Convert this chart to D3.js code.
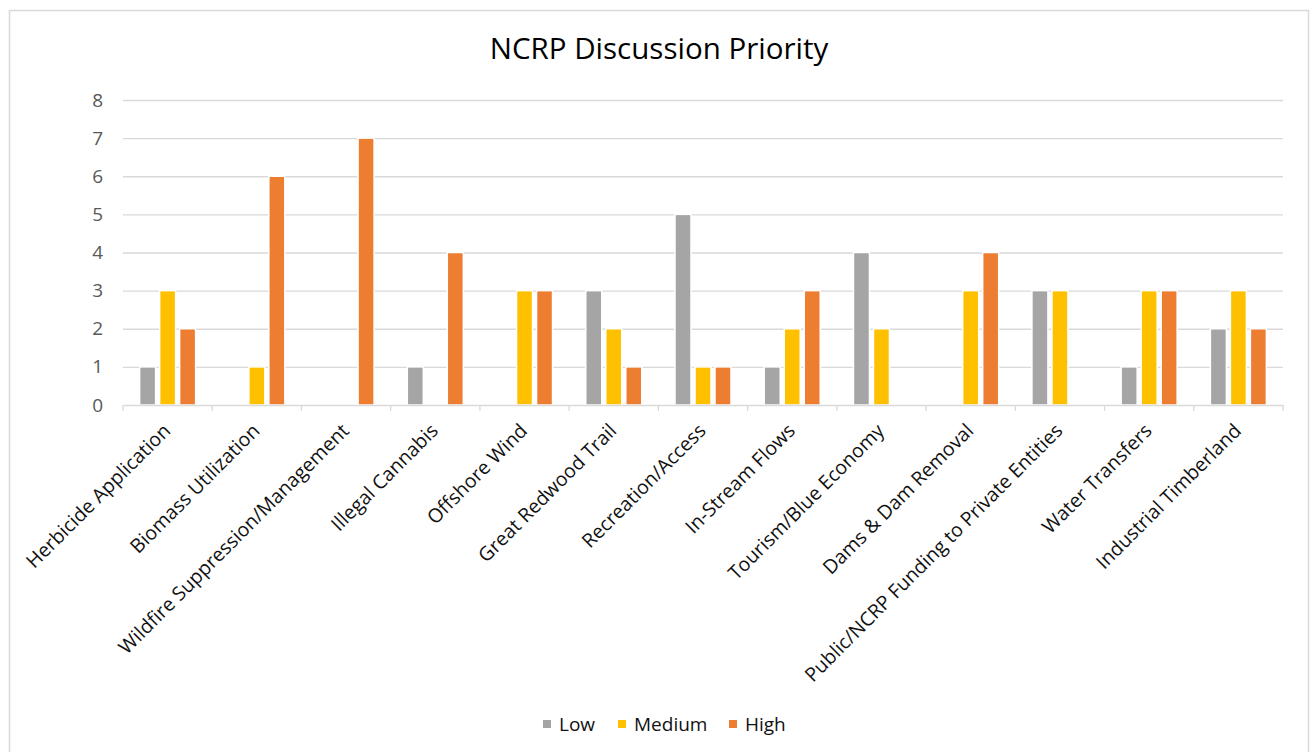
<!DOCTYPE html>
<html>
<head>
<meta charset="utf-8">
<script src="https://cdn.jsdelivr.net/npm/d3@7"></script>
<style>
  html, body { margin: 0; padding: 0; background: #fff; }
  svg { display: block; }
</style>
</head>
<body>
<svg id="chart" width="1312" height="752"></svg>
<script>
const categories = [
  "Herbicide Application",
  "Biomass Utilization",
  "Wildfire Suppression/Management",
  "Illegal Cannabis",
  "Offshore Wind",
  "Great Redwood Trail",
  "Recreation/Access",
  "In-Stream Flows",
  "Tourism/Blue Economy",
  "Dams & Dam Removal",
  "Public/NCRP Funding to Private Entities",
  "Water Transfers",
  "Industrial Timberland"
];
const seriesNames = ["Low", "Medium", "High"];
const lowValues    = [1, 0, 0, 1, 0, 3, 5, 1, 4, 0, 3, 1, 2];
const mediumValues = [3, 1, 0, 0, 3, 2, 1, 2, 2, 3, 3, 3, 3];
const highValues   = [2, 6, 7, 4, 3, 1, 1, 3, 0, 4, 0, 3, 2];
const yTicks = [0, 1, 2, 3, 4, 5, 6, 7, 8];
const colors = ["#A5A5A5", "#FFC000", "#ED7D31"];
const title = "NCRP Discussion Priority";

const seriesValues = [lowValues, mediumValues, highValues];
const FONT = "'Open Sans', 'Noto Sans', sans-serif";

const svg = d3.select("#chart");

// frame
svg.append("rect")
  .attr("x", 9.5).attr("y", 10.5)
  .attr("width", 1299).attr("height", 760)
  .attr("fill", "#fff").attr("stroke", "#D9D9D9").attr("stroke-width", 1.5);

const plot = { left: 123, right: 1283, top: 100, bottom: 405 };

const x0 = d3.scaleBand().domain(categories).range([plot.left, plot.right]).paddingInner(0).paddingOuter(0);
const bw = x0.bandwidth();
const x1 = d3.scaleBand().domain(seriesNames).range([bw / 2 - 28, bw / 2 + 28]).paddingInner(0.2).paddingOuter(0);
const y = d3.scaleLinear().domain([0, 8]).range([plot.bottom, plot.top]);

// title
svg.append("text")
  .attr("x", 659).attr("y", 59)
  .attr("text-anchor", "middle")
  .attr("font-family", FONT).attr("font-size", 29.5)
  .attr("fill", "#000")
  .text(title);

// gridlines + y labels
const yAxis = d3.axisLeft(y).tickValues(yTicks).tickSize(-(plot.right - plot.left)).tickPadding(20).tickFormat(d3.format("d"));
const gy = svg.append("g").attr("transform", `translate(${plot.left},0)`).call(yAxis);
gy.select(".domain").remove();
gy.selectAll(".tick line").attr("stroke", "#D9D9D9").attr("stroke-width", 1.3);
gy.selectAll(".tick").filter(d => d === 0).select("line").remove();
gy.selectAll(".tick text")
  .attr("font-family", FONT).attr("font-size", 19).attr("fill", "#595959");

// bars
const groups = svg.append("g").selectAll("g")
  .data(categories)
  .join("g")
  .attr("transform", d => `translate(${x0(d)},0)`);

groups.selectAll("rect")
  .data((d, i) => seriesNames.map((s, j) => ({ s, v: seriesValues[j][i], c: colors[j] })))
  .join("rect")
  .filter(d => d.v > 0)
  .attr("x", d => x1(d.s))
  .attr("width", x1.bandwidth())
  .attr("y", d => y(d.v))
  .attr("height", d => y(0) - y(d.v))
  .attr("fill", d => d.c)
  .attr("stroke", "#fff")
  .attr("stroke-width", 1.5);

// x axis
const xAxis = d3.axisBottom(x0).tickSize(0).tickFormat("");
const gx = svg.append("g").attr("transform", `translate(0,${plot.bottom})`).call(xAxis);
gx.select(".domain").attr("stroke", "#D9D9D9").attr("stroke-width", 1.5);
gx.selectAll(".tick").remove();
const boundaries = categories.map(c => x0(c)).concat([plot.right]);
gx.selectAll("line.sep")
  .data(boundaries)
  .join("line")
  .attr("class", "sep")
  .attr("x1", d => d).attr("x2", d => d)
  .attr("y1", 0).attr("y2", 6)
  .attr("stroke", "#D9D9D9").attr("stroke-width", 1.3);

// category labels
svg.append("g").selectAll("text")
  .data(categories)
  .join("text")
  .attr("transform", d => `translate(${x0(d) + bw / 2 + 4},432) rotate(-45)`)
  .attr("text-anchor", "end")
  .attr("font-family", FONT).attr("font-size", 19.5)
  .attr("fill", "#111")
  .text(d => d);

// legend
const legendItems = [
  { name: "Low", x: 543 },
  { name: "Medium", x: 618 },
  { name: "High", x: 729 }
];
const lg = svg.append("g").selectAll("g")
  .data(seriesNames)
  .join("g")
  .attr("transform", (d, i) => `translate(${legendItems[i].x},724)`);
lg.append("rect")
  .attr("x", 0).attr("y", -4).attr("width", 8).attr("height", 8)
  .attr("fill", (d, i) => colors[i]);
lg.append("text")
  .attr("x", 16).attr("y", 0).attr("dy", "0.35em")
  .attr("font-family", FONT).attr("font-size", 19)
  .attr("fill", "#111")
  .text(d => d);
</script>
</body>
</html>
